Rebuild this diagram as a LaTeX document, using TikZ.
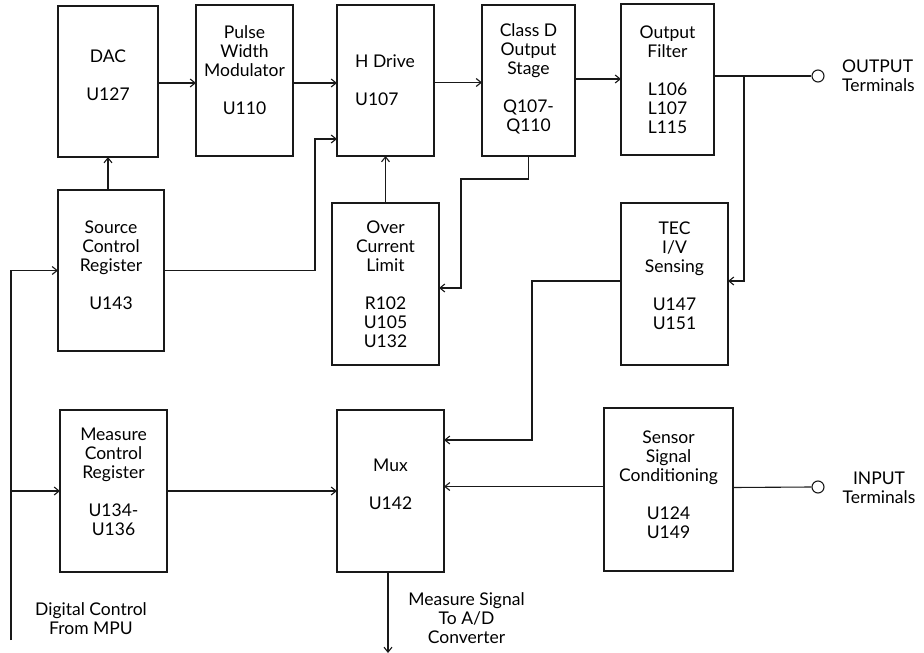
\documentclass[tikz,border=0pt]{standalone}
\usepackage{fontspec}
\setmainfont{Lato}
\usetikzlibrary{arrows.meta,calc}
\begin{document}
\begin{tikzpicture}[x=1pt,y=-1pt,
  box/.style 2 args={draw=black!90, line width=1.1pt, anchor=north west,
    minimum width=#1, minimum height=#2, inner sep=0, outer sep=0},
  txt/.style={font=\fontsize{17.5}{19}\selectfont, align=center, inner sep=0},
  wire/.style={draw=black!90, line width=1.1pt},
  arr/.style={wire, -{Straight Barb[length=5pt,width=8pt]}},
  term/.style={circle, draw=black!90, line width=1.1pt, fill=white, minimum size=12pt, inner sep=0}]
\useasboundingbox (0,0) rectangle (924,653);
% boxes
\node[box={100}{151}] (dac) at (58,6) {};
\node[box={97}{151}]  (pwm) at (196,5) {};
\node[box={97}{151}]  (hd)  at (337,5) {};
\node[box={93}{151}]  (cd)  at (482,5) {};
\node[box={93}{151}]  (of)  at (621,4) {};
\node[box={106}{161}] (scr) at (58,190) {};
\node[box={107}{162}] (ocl) at (332,203) {};
\node[box={107}{162}] (tec) at (621,203) {};
\node[box={107}{162}] (mcr) at (60,410) {};
\node[box={107}{162}] (mux) at (337,410) {};
\node[box={129}{163}] (ssc) at (604,408) {};
% box texts
\node[txt] (dact) at (108,75) {DAC\\[19pt]U127};
\node[txt] (pwmt) at (244.5,70) {Pulse\\Width\\Modulator\\[19pt]U110};
\node[txt, align=left, anchor=west] (hdt) at (355,80) {H Drive\\[19pt]U107};
\node[txt] (cdt) at (528.5,78.5) {Class D\\Output\\Stage\\[19pt]Q107-\\Q110};
\node[txt] (oft) at (667.5,80) {Output\\Filter\\[19pt]L106\\L107\\L115};
\node[txt] (scrt) at (111,265) {Source\\Control\\Register\\[19pt]U143};
\node[txt] (oclt) at (385.5,284) {Over\\Current\\Limit\\[19pt]R102\\U105\\U132};
\node[txt] (tect) at (674.5,276) {TEC\\I/V\\Sensing\\[19pt]U147\\U151};
\node[txt] (mcrt) at (113.5,482) {Measure\\Control\\Register\\[19pt]U134-\\U136};
\node[txt] (muxt) at (390.5,484) {Mux\\[19pt]U142};
\node[txt] (ssct) at (668.5,485) {Sensor\\Signal\\Conditioning\\[19pt]U124\\U149};
% terminals
\node[term] (outt) at (818,76) {};
\node[term] (int) at (818,487) {};
\node[txt, align=left, anchor=west] (outl) at (842,76) {OUTPUT\\Terminals};
\node[txt] (inl) at (879,487.5) {INPUT\\Terminals};
\node[txt] (mpul) at (91,618.5) {Digital Control\\From MPU};
\node[txt] (adl) at (466.5,618.5) {Measure Signal\\To A/D\\Converter};
% free ends
\coordinate (mpu) at (11,640);
\coordinate (j) at (744,76);
\coordinate (adc) at (388,653);
\coordinate (hdin) at (315,139);
\coordinate (cdk) at (461,179);
\coordinate (muxk) at (532,440);
% connectors
\draw[arr] ([yshift=-1.5pt]dac.east) -- ([yshift=-2.5pt]pwm.west);
\draw[arr] ([yshift=-2.5pt]pwm.east) -- ([yshift=-2.5pt]hd.west);
\draw[arr] ([yshift=-2pt]hd.east) -- ([yshift=-2pt]cd.west);
\draw[arr] ([yshift=1.5pt]cd.east) -- ([yshift=0.5pt]of.west);
\draw[wire] (of.east |- j) -- (outt.west);
\draw[arr] (j) |- ([yshift=3pt]tec.east);
\draw[arr] (scr.north -| dac.south) -- (dac.south);
\draw[arr] (scr.east) -| (hdin) -- (hd.west |- hdin);
\draw[arr] (mpu) |- (scr.west);
\draw[arr] (mpu |- mcr.west) -- (mcr.west);
\draw[arr] (ocl.north) -- (ocl.north |- hd.south);
\draw[arr] (cd.south) |- (cdk) |- ([yshift=-4pt]ocl.east);
\draw[arr] ([yshift=3pt]tec.west) -| (muxk) -- (mux.east |- muxk);
\draw[arr] (mcr.east) -- (mux.west);
\draw[arr] ([yshift=3pt]ssc.west) -- ([yshift=4.5pt]mux.east);
\draw[wire] ([yshift=2pt]ssc.east) -- (int.west);
\draw[arr] (mux.south -| adc) -- (adc);
\end{tikzpicture}
\end{document}
